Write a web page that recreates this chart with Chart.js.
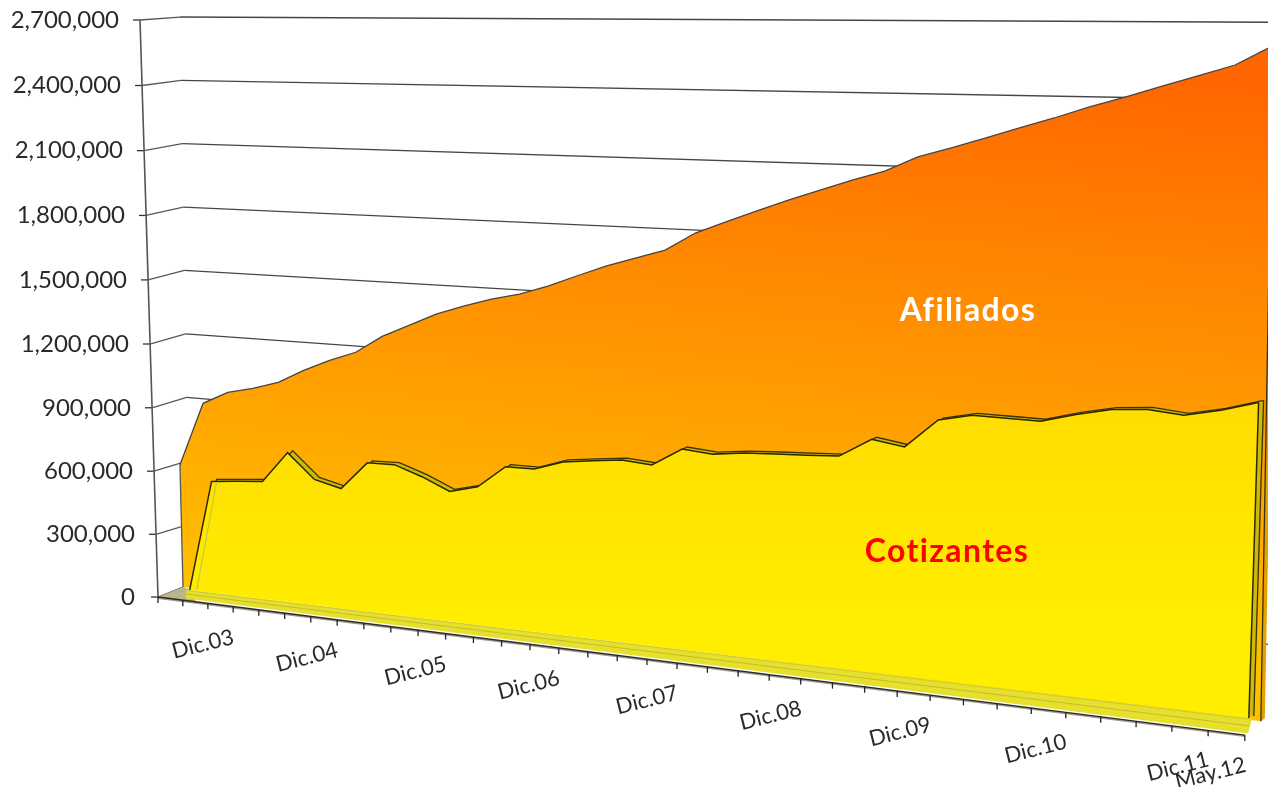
<!DOCTYPE html>
<html>
<head>
<meta charset="utf-8">
<style>html,body{margin:0;padding:0;background:#fff}#w{position:relative;width:1268px;height:787px;overflow:hidden}</style>
<script src="https://cdn.jsdelivr.net/npm/chart.js@4"></script>
</head>
<body>
<div id="w"><canvas id="c"></canvas></div>
<script>
const categories = ['','','Dic.03','','','','Dic.04','','','','Dic.05','','','','Dic.06','','','','Dic.07','','','','Dic.08','','','','Dic.09','','','','Dic.10','','','','Dic.11','May.12',''];
const afiliados = [578000,880000,941000,970000,1007000,1072000,1127000,1173000,1254000,1312000,1370000,1414000,1453000,1482000,1525000,1576000,1626000,1667000,1708000,1787000,1840000,1892000,1943000,1990000,2036000,2078000,2140000,2181000,2224000,2269000,2312000,2359000,2401000,2445000,2489000,2533000,2609000];
const cotizantes = [null,0,521000,533000,544000,688000,576000,546000,674000,677000,634000,580000,612000,712000,713000,755000,771000,785000,775000,854000,843000,858000,865000,871000,878000,958000,937000,1057000,1086000,1084000,1082000,1119000,1148000,1158000,1145000,1174000,1214000];
const yMax = 2700000, yStep = 300000;
const seriesNames = ['Afiliados','Cotizantes'];

/* perspective of the 3-D box the original chart is drawn in */
const tickX = n => 158 + 24.69*n/(1 - 0.00506*n);
const tickY = x => 597 + 0.127*(x - 158);
const planes = {
  cot:     {off:n=>7-3*n/36,  base:x=>590+0.121*(x-190),   k:x=>0.99*(1+0.00021*(x-158)),  lean:x=>-0.03+0.061*(x-190)/1060,  dx:0, dy:0},
  cotBack: {off:n=>7-3*n/36,  base:x=>590+0.121*(x-190),   k:x=>0.99*(1+0.00021*(x-158)),  lean:x=>-0.03+0.061*(x-190)/1060,  dx:5, dy:-2},
  afil:    {off:n=>25-9*n/36, base:x=>587+0.1245*(x-183),  k:x=>0.9878*(1+0.00021*(x-183)),lean:x=>-0.025+0.043*(x-183)/1080, dx:0, dy:0}
};
function project(plane, n, h0){
  const p = planes[plane], foot = tickX(n) + p.off(n), h = h0*p.k(foot);
  return {x: foot + p.lean(foot)*h + p.dx, y: p.base(foot) - h + p.dy};
}
const h0Of = (chart, v) => { const s = chart.scales.y; return s.getPixelForValue(0) - s.getPixelForValue(v); };
const indexOfPixel = (chart, px) => { const s = chart.scales.x; return (px - s.left)/(s.right - s.left)*(categories.length - 1); };
const axisX = v => 158 - 18*v/yMax;
const axisBow = v => { const t = v/yMax; return 14*t*(1-t); };
const kinkX = v => 190 - 10*v/yMax;

class PerspectiveCategory extends Chart.CategoryScale {
  _computeLabelArea(){ return null; }
  _computeLabelItems(area){
    const items = super._computeLabelItems(area);
    const out = [];
    items.forEach(it => {
      const n = categories.indexOf(it.label);
      if (n < 0 || it.label === '') return;
      const lastLabel = n === categories.length - 2;
      const x = tickX(n), cx = x - 5 + (x - 208)*0.0114 - (lastLabel ? 4 : 0), cy = tickY(x) + 41 + (lastLabel ? 2 : 0);
      it.textOffset = 0;
      it.options.translation = [cx, cy];
      it.options.textAlign = 'center';
      it.options.textBaseline = 'middle';
      out.push(it);
    });
    return out;
  }
}
PerspectiveCategory.id = 'perspectiveCategory';
PerspectiveCategory.defaults = Chart.CategoryScale.defaults;

class SlantLinear extends Chart.LinearScale {
  _computeLabelArea(){ return null; }
  _computeLabelItems(area){
    const items = super._computeLabelItems(area);
    items.forEach((it,i) => {
      const v = this.ticks[i].value;
      it.options.translation[0] += axisX(v) - this.right - (v === 0 ? 2 : 0);
      it.options.translation[1] += axisBow(v);
    });
    return items;
  }
}
SlantLinear.id = 'slantLinear';
SlantLinear.defaults = Chart.LinearScale.defaults;
Chart.register(PerspectiveCategory, SlantLinear);

function line(ctx, a, b, color, w){
  ctx.strokeStyle = color; ctx.lineWidth = w;
  ctx.beginPath(); ctx.moveTo(a.x,a.y); ctx.lineTo(b.x,b.y); ctx.stroke();
}
function poly(ctx, pts, fill){
  ctx.fillStyle = fill; ctx.beginPath();
  pts.forEach((p,i)=> i ? ctx.lineTo(p.x,p.y) : ctx.moveTo(p.x,p.y));
  ctx.closePath(); ctx.fill();
}
function drawFloor(ctx){
  const last = categories.length - 1, yb = planes.cot.base;
  poly(ctx,[{x:158,y:597},{x:183,y:587},{x:192,y:590},{x:196,y:602}],'#b9b58c');
  poly(ctx,[{x:186,y:yb(186)},{x:1252,y:yb(1252)},{x:1248,y:tickY(1248)-2},{x:186,y:tickY(186)-2}],'#e6e02c');
  const mid = x => (yb(x)+tickY(x)-2)/2;
  line(ctx,{x:186,y:mid(186)},{x:1249,y:mid(1249)},'#c4bc2c',1);
  line(ctx,{x:186,y:yb(186)+1},{x:1250,y:yb(1250)+1},'#cfc83a',1);
  line(ctx,{x:158,y:tickY(158)+1},{x:1245,y:tickY(1245)+1},'rgba(130,130,120,0.8)',2);
  line(ctx,{x:158,y:tickY(158)},{x:1245,y:tickY(1245)},'#2c2c20',1.3);
  for (let n=0;n<=last;n++){
    const x = tickX(n);
    line(ctx,{x,y:tickY(x)},{x,y:tickY(x)+6},'#222',1.3);
  }
}

const box3d = {
  id:'box3d',
  afterDatasetsUpdate(chart){
    chart.data.datasets.forEach((ds,di)=>{
      const meta = chart.getDatasetMeta(di);
      meta.data.forEach((el,i)=>{
        if (ds.data[i] === null) return;
        const n = indexOfPixel(chart, chart.scales.x.getPixelForValue(i));
        const p = project(ds.plane, n, h0Of(chart, ds.data[i]));
        el.x = p.x; el.y = p.y;
      });
    });
  },
  beforeDatasetsDraw(chart){
    const ctx = chart.ctx, y = chart.scales.y;
    ctx.save();
    y.ticks.forEach(t=>{
      const v = t.value, py = y.getPixelForValue(v) + axisBow(v), h = h0Of(chart,v);
      const a = planes.afil, kx = v === 0 ? 183 : kinkX(v);
      const k = {x:kx, y:a.base(kx) - h*a.k(kx)};
      const e = {x:1280, y:a.base(1280) - h*a.k(1280)};
      line(ctx,{x:axisX(v),y:py},k,'rgba(70,70,70,0.9)',1.3);
      if (v>0) line(ctx,k,e,'rgba(50,50,50,0.9)',1.3);
      line(ctx,{x:axisX(v)-7,y:py},{x:axisX(v),y:py},'#333',1.3);
    });
    line(ctx,{x:axisX(yMax),y:y.getPixelForValue(yMax)},{x:axisX(0),y:y.getPixelForValue(0)},'#555',1.6);
    const last = categories.length - 1;
    const at = project('afil',last,h0Of(chart,afiliados[last])), ab = project('afil',last,0);
    poly(ctx,[ab,at,{x:at.x+5,y:at.y-2},{x:ab.x+4,y:ab.y-3}],'#e3a200');
    ctx.restore();
  },
  beforeDatasetDraw(chart,{index,meta}){
    const ds = chart.data.datasets[index], ctx = chart.ctx;
    if (index === 1) { ctx.save(); drawFloor(ctx); ctx.restore(); }
    const i0 = ds.data.findIndex(v=>v!==null);
    const top = meta.data.slice(i0);
    const last = categories.length-1;
    const a = project(ds.plane,last,0), b = project(ds.plane,i0,0);
    const g = ctx.createLinearGradient(ds.grad[0],ds.grad[1],ds.grad[2],ds.grad[3]);
    ds.stops.forEach((c,i)=>g.addColorStop(i/(ds.stops.length-1),c));
    poly(ctx,[...top.map(e=>({x:e.x,y:e.y})),a,b],g);
  },
  afterDatasetsDraw(chart){
    const ctx = chart.ctx, last = categories.length-1;
    ctx.save();
    const h = v => h0Of(chart,v);
    line(ctx,project('cot',last,0),project('cot',last,h(cotizantes[last])),'#2e2a00',1.5);
    line(ctx,project('cotBack',last,0),project('cotBack',last,h(cotizantes[last])),'#3a3400',1.3);
    line(ctx,project('afil',last,0),project('afil',last,h(afiliados[last])),'#3a3000',1.3);
    line(ctx,project('afil',0,0),project('afil',0,h(afiliados[0])),'#555',1.3);
    const r1 = project('cot',1,0), r2 = project('cot',2,h(cotizantes[2]));
    line(ctx,{x:r1.x+7,y:r1.y},{x:r2.x+5,y:r2.y+1},'#c9c832',1.2);
    ctx.textAlign='center'; ctx.textBaseline='middle';
    ctx.font='bold 32px Lato';
    ctx.letterSpacing='1.4px';
    ctx.fillStyle='#ffffff'; ctx.fillText(seriesNames[0],968,311);
    ctx.fillStyle='#ff0000'; ctx.fillText(seriesNames[1],947,552);
    ctx.restore();
  }
};

new Chart(document.getElementById('c'),{
  type:'line',
  data:{
    labels:categories,
    datasets:[
      {label:seriesNames[1],data:cotizantes,plane:'cot',borderColor:'#2a2600',borderWidth:1.5,pointRadius:0,tension:0,fill:false,clip:false,
       grad:[0,400,0,620],stops:['#ffdc00','#ffee00']},
      {label:seriesNames[1]+' (fondo)',data:cotizantes,plane:'cotBack',borderColor:'#3a3400',borderWidth:1.3,pointRadius:0,tension:0,fill:false,clip:false,
       grad:[0,400,0,620],stops:['#cdb90a','#cdb90a']},
      {label:seriesNames[0],data:afiliados,plane:'afil',borderColor:'#444',borderWidth:1.3,pointRadius:0,tension:0,fill:false,clip:false,
       grad:[760,40,710,620],stops:['#ff6600','#ffc000']}
    ]
  },
  options:{
    responsive:true,maintainAspectRatio:false,animation:false,
    layout:{padding:{top:20,bottom:190,left:0,right:0}},
    plugins:{legend:{display:false},tooltip:{enabled:false},title:{display:false}},
    events:[],
    scales:{
      x:{type:'perspectiveCategory',offset:false,
         grid:{display:false,drawTicks:false},border:{display:false},
         afterFit(s){s.height=0;s.paddingLeft=0;s.paddingRight=0;},
         ticks:{autoSkip:false,minRotation:14,maxRotation:14,color:'#2a2a2a',font:{family:'Lato',size:22}}},
      y:{type:'slantLinear',min:0,max:yMax,position:'left',
         grid:{display:false,drawTicks:false},border:{display:false},
         afterFit(s){s.width=140;s.paddingTop=0;s.paddingBottom=0;},
         ticks:{stepSize:yStep,padding:21,color:'#2a2a2a',font:{family:'Lato',size:24},
                callback:v=>v.toLocaleString('en-US')}}
    }
  },
  plugins:[box3d]
});
</script>
</body>
</html>
